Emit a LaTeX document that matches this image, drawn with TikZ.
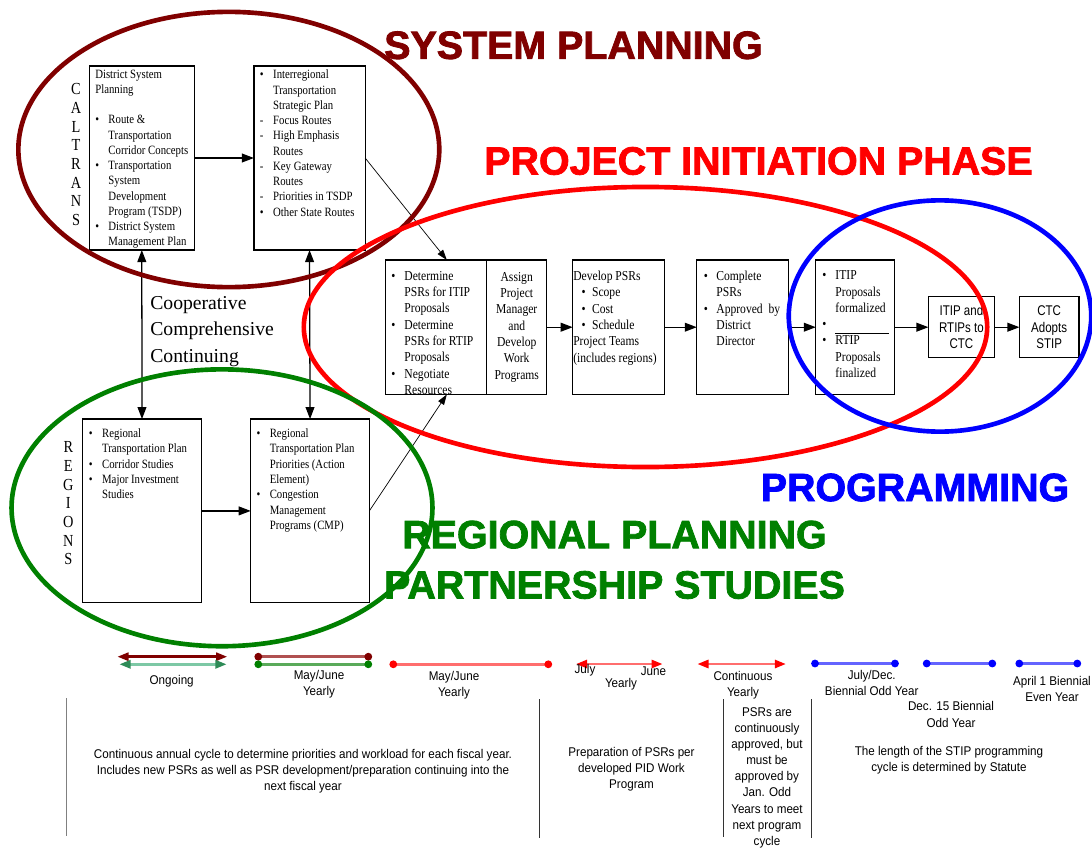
\documentclass[tikz,border=0pt]{standalone}
\usepackage{fontspec}
\setmainfont{Liberation Serif}
\setsansfont{Liberation Sans}
\newfontfamily\boxfont{Liberation Serif}[FakeStretch=0.85]
\newfontfamily\notefont{Liberation Sans}[FakeStretch=0.92]
\newfontfamily\ctcfont{Liberation Sans}[FakeStretch=0.82]
\newfontfamily\titlefont{Liberation Sans}[BoldFeatures={FakeBold=2}]
\usetikzlibrary{positioning, arrows.meta}

\definecolor{sysred}{RGB}{128,0,0}
\definecolor{sysredl}{RGB}{176,80,80}
\definecolor{regreen}{RGB}{0,128,0}
\definecolor{regreenl}{RGB}{90,170,90}
\definecolor{seagreen}{RGB}{46,139,87}
\definecolor{seagreenl}{RGB}{125,200,165}
\definecolor{redl}{RGB}{255,110,110}
\definecolor{bluel}{RGB}{100,100,255}

\newcommand{\bl}[1][0.33cm]{\makebox[#1][l]{\textbullet}}
\newcommand{\ds}{\makebox[0.33cm][l]{-}}
\newcommand{\ind}{\hspace*{0.33cm}}

\tikzset{
  box/.style={draw, line width=0.9pt, inner sep=0pt, outer sep=0pt},
  boxtext/.style={inner sep=0pt, anchor=north west, align=left},
  small/.style={font=\fontsize{9}{10.85}\boxfont},
  regular/.style={font=\fontsize{9}{11}\boxfont},
  mid/.style={font=\fontsize{9.7}{11.6}\boxfont},
  ctc/.style={font=\fontsize{10}{11.7}\ctcfont, align=center},
  note/.style={font=\fontsize{9}{11.5}\notefont, align=center, inner sep=0pt},
  heading/.style={font=\fontsize{28}{35.8}\titlefont\bfseries, align=center, inner sep=0pt},
  flow/.style={line width=0.9pt, -{Triangle[length=0.3cm, width=0.22cm]}},
  both/.style={line width=0.9pt, {Triangle[length=0.3cm, width=0.22cm]}-{Triangle[length=0.3cm, width=0.22cm]}},
  link/.style={line width=0.5pt, -{Triangle[length=0.26cm, width=0.17cm]}},
  ring/.style={line width=3.3pt},
  span/.style={line width=1.9pt, {Triangle[length=0.28cm, width=0.2cm, color=#1]}-{Triangle[length=0.28cm, width=0.2cm, color=#1]}},
  dotend/.style={line width=1.9pt, {Circle[length=0.19cm, color=#1]}-{Circle[length=0.19cm, color=#1]}, shorten <=-0.095cm, shorten >=-0.095cm}
}

\begin{document}
\begin{tikzpicture}[x=0.025cm, y=-0.025cm]
\fill[white] (0,0) rectangle (1092,848);
\useasboundingbox (0,0) rectangle (1092,848);

\node[box, minimum width=2.625cm, minimum height=4.6cm] (dsp) at (141.8,158) {};
\node[box, minimum width=2.78cm, minimum height=4.6cm, right=1.49cm of dsp] (itsp) {};
\node[box, minimum width=2.965cm, minimum height=4.59cm] (rtp) at (142,510.9) {};
\node[box, minimum width=2.965cm, minimum height=4.59cm, right=1.235cm of rtp] (rtpact) {};

\node[box, minimum width=2.525cm, minimum height=3.36cm] (psr) at (436.2,327.2) {};
\node[box, mid, align=center, minimum width=1.5cm, minimum height=3.36cm, right=0pt of psr] (assign) {Assign\\Project\\Manager\\and\\Develop\\Work\\Programs};
\node[box, minimum width=2.29cm, minimum height=3.36cm, right=0.65cm of assign] (develop) {};
\node[box, minimum width=2.29cm, minimum height=3.36cm, right=0.81cm of develop] (complete) {};
\node[box, minimum width=1.965cm, minimum height=3.36cm, right=0.685cm of complete] (formal) {};
\node[box, ctc, minimum width=1.65cm, minimum height=1.525cm, right=0.85cm of formal] (toctc) {ITIP and\\RTIPs to\\CTC};
\node[box, ctc, minimum width=1.485cm, minimum height=1.525cm, right=0.625cm of toctc] (adopt) {CTC\\Adopts\\STIP};

\node[boxtext, small] (dsptext) at (95,69.4) {District System\\Planning\\[10.85pt]
  \bl Route \&\\ \ind Transportation\\ \ind Corridor Concepts\\
  \bl Transportation\\ \ind System\\ \ind Development\\ \ind Program (TSDP)\\
  \bl District System\\ \ind Management Plan};
\node[boxtext, small] (itsptext) at (259.7,69.7) {\bl Interregional\\ \ind Transportation\\ \ind Strategic Plan\\
  \ds Focus Routes\\ \ds High Emphasis\\ \ind Routes\\ \ds Key Gateway\\ \ind Routes\\
  \ds Priorities in TSDP\\ \bl Other State Routes};
\node[boxtext, mid] (psrtext) at (391,271) {\bl Determine\\ \ind PSRs for ITIP\\ \ind Proposals\\
  \bl Determine\\ \ind PSRs for RTIP\\ \ind Proposals\\ \bl Negotiate\\ \ind Resources};
\node[boxtext, mid] (developtext) at (573,270.7) {Develop PSRs\\
  \hspace*{0.21cm}\bl[0.26cm]Scope\\ \hspace*{0.21cm}\bl[0.26cm]Cost\\ \hspace*{0.21cm}\bl[0.26cm]Schedule\\
  Project Teams\\ (includes regions)};
\node[boxtext, mid] (completetext) at (703.7,270.7) {\bl[0.31cm]Complete\\ \hspace*{0.31cm}PSRs\\
  \bl[0.31cm]Approved\ \ by\\ \hspace*{0.31cm}District\\ \hspace*{0.31cm}Director};
\node[boxtext, mid] (formaltext) at (822,270.5) {\bl ITIP\\ \ind Proposals\\ \ind formalized\\
  \bl\rule[-3.5pt]{1.34cm}{0.5pt}\\ \bl RTIP\\ \ind Proposals\\ \ind finalized};
\node[boxtext, regular] (rtptext) at (88.7,428) {\bl Regional\\ \ind Transportation Plan\\
  \bl Corridor Studies\\ \bl Major Investment\\ \ind Studies};
\node[boxtext, regular] (rtpacttext) at (256.3,428) {\bl Regional\\ \ind Transportation Plan\\
  \ind Priorities (Action\\ \ind Element)\\ \bl Congestion\\ \ind Management\\ \ind Programs (CMP)};

\node[font=\fontsize{12}{13.3}\boxfont, align=center, inner sep=0pt] (caltrans) at (76,154.7) {C\\A\\L\\T\\R\\A\\N\\S};
\node[font=\fontsize{12}{13.3}\boxfont, align=center, inner sep=0pt] (regions) at (68.3,503.4) {R\\E\\G\\I\\O\\N\\S};
\node[boxtext, font=\fontsize{14}{18.9}\selectfont] (coop) at (150,296) {Cooperative\\Comprehensive\\Continuing};

\draw[flow] (dsp) edge (itsp) (rtp) edge (rtpact);
\draw[flow] (assign) edge (develop) (develop) edge (complete) (complete) edge (formal)
  (formal) edge (toctc) (toctc) edge (adopt);
\draw[both] (dsp.south) -- (rtp.north);
\draw[both] (itsp.south) -- (rtpact.north);
\draw[link] (itsp.east) -- (psr.81);
\draw[link] (rtpact.east) -- (psr.-81);

\draw[ring, sysred] (228.8,149.5) ellipse [x radius=5.26cm, y radius=3.44cm];
\draw[ring, red] (645.5,327) ellipse [x radius=8.54cm, y radius=3.5cm];
\draw[ring, blue] (940,316) ellipse [x radius=3.78cm, y radius=2.89cm];
\draw[ring, regreen] (222,507.8) ellipse [x radius=5.26cm, y radius=3.46cm];

\node[heading, text=sysred] (sysplan) at (573.5,45.3) {SYSTEM PLANNING};
\node[heading, text=red] (initphase) at (758.5,161) {PROJECT INITIATION PHASE};
\node[heading, text=blue] (programming) at (915,487.5) {PROGRAMMING};
\node[heading, text=regreen] (regplan) at (614.5,559.8) {REGIONAL PLANNING\\PARTNERSHIP STUDIES};

\coordinate (og1) at (117.3,656.7); \coordinate (og2) at (227.3,656.7);
\coordinate (og3) at (119.3,664.3); \coordinate (og4) at (226.7,664.3);
\coordinate (mj1) at (258.3,656.7); \coordinate (mj2) at (368.3,656.7);
\coordinate (mj3) at (258.3,664.3); \coordinate (mj4) at (368.3,664.3);
\coordinate (mj5) at (393.3,664.3); \coordinate (mj6) at (548.3,664.3);
\coordinate (jj1) at (576,664); \coordinate (jj2) at (662.7,664);
\coordinate (ct1) at (697.3,664); \coordinate (ct2) at (786,664);
\coordinate (bi1) at (815,663.5); \coordinate (bi2) at (895,663.5);
\coordinate (bi3) at (926.7,663.5); \coordinate (bi4) at (992.3,663.5);
\coordinate (bi5) at (1019.3,663.5); \coordinate (bi6) at (1077.3,663.5);

\draw[sysred, span=sysred] (og1) -- (og2);
\draw[seagreenl, span=seagreen] (og3) -- (og4);
\draw[sysredl, dotend=sysred] (mj1) -- (mj2);
\draw[regreenl, dotend=regreen] (mj3) -- (mj4);
\draw[redl, dotend=red] (mj5) -- (mj6);
\draw[redl, span=red] (jj1) -- (jj2);
\draw[redl, span=red] (ct1) -- (ct2);
\draw[bluel, dotend=blue] (bi1) -- (bi2);
\draw[bluel, dotend=blue] (bi3) -- (bi4);
\draw[bluel, dotend=blue] (bi5) -- (bi6);

\draw[gray, line width=0.8pt] (66.7,698) -- (66.7,836);
\draw[black!80, line width=0.7pt] (539.3,699) -- (539.3,838);
\draw[black!80, line width=0.7pt] (723.8,699) -- (723.8,837);
\draw[black!80, line width=0.7pt] (811,699) -- (811,838);

\node[note] (ongoing) at (171.7,681.7) {Ongoing};
\node[note] (mayjune) at (319,684.5) {May/June\\Yearly};
\node[note] (mayjunepid) at (454,685.3) {May/June\\Yearly};
\node[note] (july) at (585,670.7) {July};
\node[note] (june) at (653.4,671.7) {June};
\node[note] (yearly) at (621,684.3) {Yearly};
\node[note] (contyearly) at (743,685.2) {Continuous\\Yearly};
\node[note] (julydec) at (871.7,683) {July/Dec.\\Biennial Odd Year};
\node[note] (dec15) at (951,714.5) {Dec. 15 Biennial\\Odd Year};
\node[note] (april) at (1052,689) {April 1 Biennial\\Even Year};
\node[note] (cycle) at (303,771.3) {Continuous annual cycle to determine priorities and workload for each fiscal year.\\Includes new PSRs as well as PSR development/preparation continuing into the\\next fiscal year};
\node[note] (prep) at (631.5,768.9) {Preparation of PSRs per\\developed PID Work\\Program};
\node[note] (approved) at (767,777.7) {PSRs are\\continuously\\approved, but\\must be\\approved by\\Jan. Odd\\Years to meet\\next program\\cycle};
\node[note] (statute) at (949,760.5) {The length of the STIP programming\\cycle is determined by Statute};
\end{tikzpicture}
\end{document}
